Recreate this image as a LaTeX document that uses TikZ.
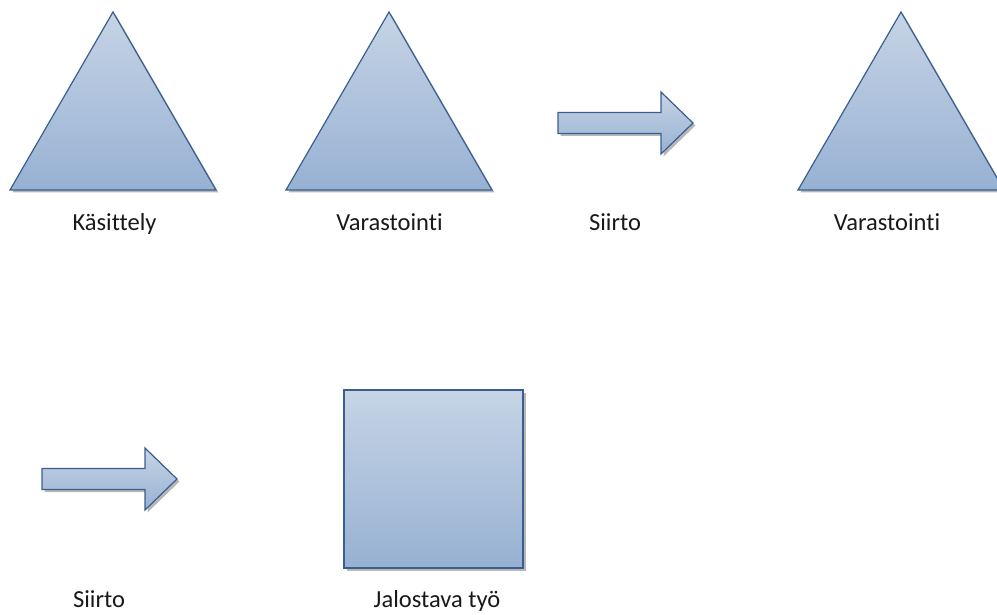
\documentclass[tikz,border=0pt]{standalone}
\usepackage{fontspec}
\setmainfont{Carlito}[Ligatures={NoCommon}]
\begin{document}
\begin{tikzpicture}[x=1pt,y=-1pt,
  shapefill/.style={draw=edgeblue, line width=1.2pt, line join=miter,
    top color=topblue, bottom color=bottomblue},
  shapeshadow/.style={fill=black!40, opacity=0.7},
  caption/.style={anchor=base, inner sep=0pt,
    font=\fontsize{24.5}{28}\selectfont, text=black!90}]
\definecolor{edgeblue}{HTML}{3A5E90}
\definecolor{topblue}{HTML}{C6D4E5}
\definecolor{bottomblue}{HTML}{97B1D3}
\useasboundingbox (0,0) rectangle (997,615);
\clip (0,0) rectangle (997,615);

% --- triangles ---
\foreach \cx in {113, 389, 901} {
  \fill[shapeshadow] (\cx-103+2.5,190+2.5) -- (\cx+2.5,12+2.5) -- (\cx+103+2.5,190+2.5) -- cycle;
  \path[shapefill] (\cx-103,190) -- (\cx,12) -- (\cx+103,190) -- cycle;
}

% --- block arrows ---
\foreach \ax/\ay in {558/123, 42/479} {
  \fill[shapeshadow] (\ax+2.5,\ay-10.5+2.5) -- (\ax+103+2.5,\ay-10.5+2.5) -- (\ax+103+2.5,\ay-31+2.5)
    -- (\ax+135+2.5,\ay+2.5) -- (\ax+103+2.5,\ay+31+2.5) -- (\ax+103+2.5,\ay+10.5+2.5)
    -- (\ax+2.5,\ay+10.5+2.5) -- cycle;
  \path[shapefill] (\ax,\ay-10.5) -- (\ax+103,\ay-10.5) -- (\ax+103,\ay-31)
    -- (\ax+135,\ay) -- (\ax+103,\ay+31) -- (\ax+103,\ay+10.5)
    -- (\ax,\ay+10.5) -- cycle;
}

% --- square ---
\fill[shapeshadow] (346.5,392.5) rectangle (525.5,570.5);
\path[shapefill] (344,390) rectangle (523,568);

% --- captions ---
\node[caption] (kas)  at (114.5,231) {Käsittely};
\node[caption] (var1) at (389.5,231) {Varastointi};
\node[caption] (sii1) at (615,231)   {Siirto};
\node[caption] (var2) at (887,231)   {Varastointi};
\node[caption] (sii2) at (99,607)    {Siirto};
\node[caption] (jal)  at (437,607)   {Jalostava työ};
\end{tikzpicture}
\end{document}
